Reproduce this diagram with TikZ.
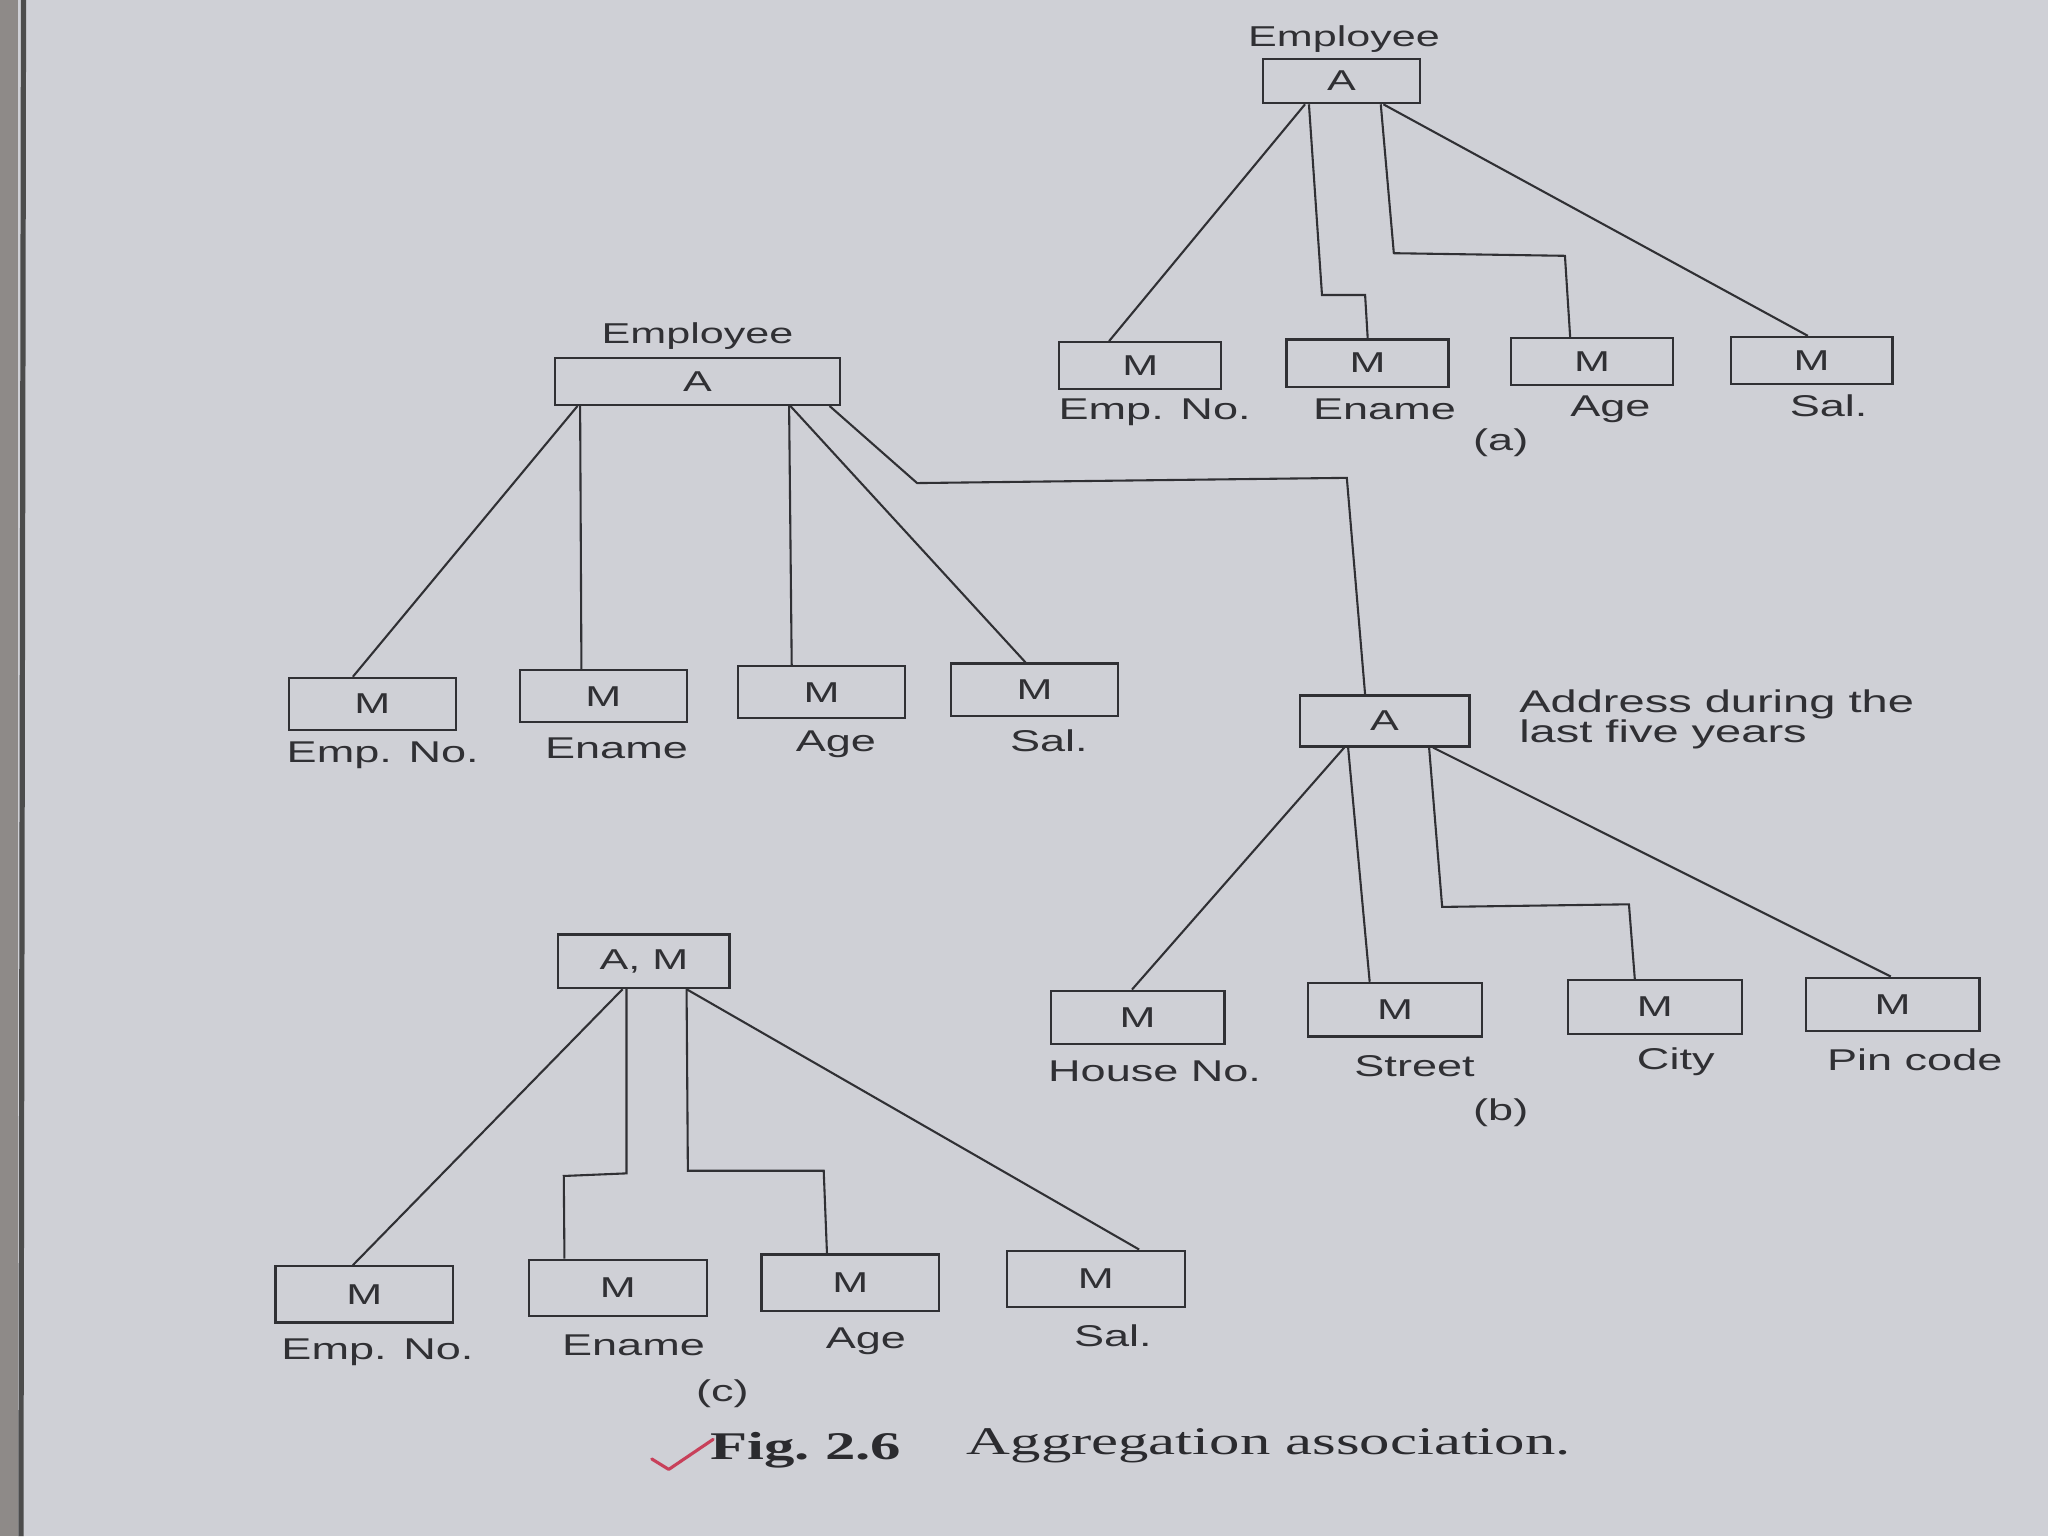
\documentclass[tikz,border=0pt]{standalone}
\usepackage{fontspec}
\usepackage{graphicx}
\setmainfont{Liberation Sans}
\newfontfamily\capfont{Liberation Serif}
\usetikzlibrary{calc}
\definecolor{paper}{HTML}{CFD0D6}
\definecolor{ink}{HTML}{303034}
\definecolor{tick}{HTML}{C8405A}
\definecolor{edgegray}{HTML}{8E8A88}
\newcommand\sx[1]{\scalebox{1.5}[1]{#1}}
\newcommand\sxc[1]{\scalebox{1.55}[1]{#1}}
\begin{document}
\begin{tikzpicture}[x=1pt,y=-1pt,
  box/.style={draw=ink, line width=1.7pt, inner sep=0pt, text=ink, font=\fontsize{22}{24}\selectfont},
  boxa/.style={box, minimum width=124pt, minimum height=36pt},
  boxe/.style={box, minimum width=128pt, minimum height=40pt},
  boxb/.style={box, minimum width=133pt, minimum height=41pt},
  boxc/.style={box, minimum width=136pt, minimum height=43pt},
  lbl/.style={inner sep=0pt, text=ink, font=\fontsize{23}{25}\selectfont},
  toplbl/.style={inner sep=0pt, text=ink, font=\fontsize{22}{24}\selectfont},
  addr/.style={inner sep=0pt, text=ink, anchor=west, font=\fontsize{24}{25}\selectfont},
  capt/.style={inner sep=0pt, text=ink!90!black, font=\capfont\fontsize{30}{32}\selectfont},
  con/.style={draw=ink, line width=1.6pt, line join=miter}]
\useasboundingbox (0,0) rectangle (1568,1176);
\fill[paper] (0,0) rectangle (1568,1176);
\fill[edgegray] (0,0) rectangle (14,1176);
\draw[line width=4pt, black!70] (18,0) -- (16,1176);

% ---------- (a) ----------
\node[toplbl] (aT) at (1029,30) {\sx{Employee}};
\node[boxa, minimum width=120pt, minimum height=34pt] (aA) at (1027,62) {\sx{A}};
\node[boxa] (a1) at (873,280) {\sx{M}};
\node[boxa] (a2) at (1047,278) {\sx{M}};
\node[boxa] (a3) at (1219,277) {\sx{M}};
\node[boxa] (a4) at (1387,276) {\sx{M}};
\node[lbl] (la1) at (884,316) {\sx{Emp. No.}};
\node[lbl] (la2) at (1060,313) {\sx{Ename}};
\node[lbl] (la3) at (1233,313) {\sx{Age}};
\node[lbl] (la4) at (1400,311) {\sx{Sal.}};
\node[lbl] (tagA) at (1149,339) {\sx{(a)}};
\draw[con] ([xshift=33]aA.south west) -- ([xshift=39]a1.north west);
\draw[con] ([xshift=36]aA.south west) -- ++(10,146) -- ++(33,0) -- ([xshift=63]a2.north west);
\draw[con] ([xshift=91]aA.south west) -- ++(10,114) -- ++(131,2) -- ([xshift=46]a3.north west);
\draw[con] ([xshift=93]aA.south west) -- ([xshift=60]a4.north west);

% ---------- middle Employee ----------
\node[toplbl] (eT) at (534,257) {\sx{Employee}};
\node[box, minimum width=218pt, minimum height=36pt] (eA) at (534,292) {\sx{A}};
\node[boxe] (e1) at (285,539) {\sx{M}};
\node[boxe] (e2) at (462,533) {\sx{M}};
\node[boxe] (e3) at (629,530) {\sx{M}};
\node[boxe] (e4) at (792,528) {\sx{M}};
\node[lbl] (le1) at (293,578) {\sx{Emp. No.}};
\node[lbl] (le2) at (472,573) {\sx{Ename}};
\node[lbl] (le3) at (640,570) {\sx{Age}};
\node[lbl] (le4) at (803,567) {\sx{Sal.}};
\draw[con] ([xshift=18]eA.south west) -- ([xshift=50]e1.north west);
\draw[con] ([xshift=20]eA.south west) -- ([xshift=48]e2.north west);
\draw[con] ([xshift=180]eA.south west) -- ([xshift=42]e3.north west);
\draw[con] ([xshift=181]eA.south west) -- ([xshift=58]e4.north west);

% ---------- (b) ----------
\node[box, minimum width=130pt, minimum height=39pt] (bA) at (1060,552) {\sx{A}};
\node[addr] (bT1) at (1163,539) {\sx{Address during the}};
\node[addr] (bT2) at (1163,562) {\sx{last five years}};
\node[boxb] (b1) at (871,779) {\sx{M}};
\node[boxb] (b2) at (1068,773) {\sx{M}};
\node[boxb] (b3) at (1267,771) {\sx{M}};
\node[boxb] (b4) at (1449,769) {\sx{M}};
\node[lbl] (lb1) at (884,820) {\sx{House No.}};
\node[lbl] (lb2) at (1083,816) {\sx{Street}};
\node[lbl] (lb3) at (1283,813) {\sx{City}};
\node[lbl] (lb4) at (1466,811) {\sx{Pin code}};
\node[lbl] (tagB) at (1149,852) {\sx{(b)}};
\draw[con] ([xshift=211]eA.south west) -- ++(67,59) -- ++(329,-4) -- ([xshift=51]bA.north west);
\draw[con] ([xshift=35]bA.south west) -- ([xshift=63]b1.north west);
\draw[con] ([xshift=38]bA.south west) -- ([xshift=48]b2.north west);
\draw[con] ([xshift=100]bA.south west) -- ++(10,122) -- ++(143,-2) -- ([xshift=52]b3.north west);
\draw[con] ([xshift=103]bA.south west) -- ([xshift=66]b4.north west);

% ---------- (c) ----------
\node[box, minimum width=131pt, minimum height=41pt] (cA) at (493,736) {\sx{A, M}};
\node[boxc] (c1) at (279,991) {\sx{M}};
\node[boxc] (c2) at (473,986) {\sx{M}};
\node[boxc] (c3) at (651,982) {\sx{M}};
\node[boxc] (c4) at (839,979) {\sx{M}};
\node[lbl] (lc1) at (289,1035) {\sx{Emp. No.}};
\node[lbl] (lc2) at (485,1030) {\sx{Ename}};
\node[lbl] (lc3) at (663,1027) {\sx{Age}};
\node[lbl] (lc4) at (852,1023) {\sx{Sal.}};
\node[lbl] (tagC) at (553,1067) {\sx{(c)}};
\draw[con] ([xshift=50]cA.south west) -- ([xshift=60]c1.north west);
\draw[con] ([xshift=53]cA.south west) -- ++(0,141) -- ++(-48,2) -- ([xshift=28]c2.north west);
\draw[con] ([xshift=99]cA.south west) -- ++(1,139) -- ++(104,0) -- ([xshift=51]c3.north west);
\draw[con] ([xshift=99]cA.south west) -- ([xshift=102]c4.north west);

% ---------- caption ----------
\node[capt] (figno) at (617,1110) {\sxc{\bfseries Fig.~2.6}};
\node[capt, anchor=west] (figtxt) at (740,1107) {\sxc{Aggregation association.}};
\coordinate (tk1) at (499,1117);
\coordinate (tk2) at (512,1125);
\coordinate (tk3) at (546,1102);
\draw[tick, line width=2.4pt, line cap=round, line join=round] (tk1) -- (tk2) -- (tk3);
\end{tikzpicture}
\end{document}
